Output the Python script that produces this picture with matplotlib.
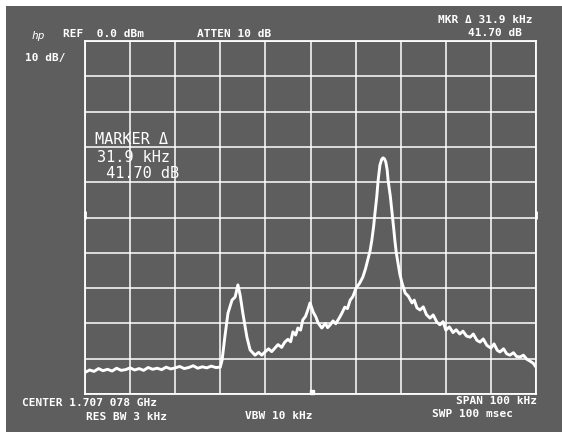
import matplotlib.pyplot as plt
import matplotlib.patches as mpatches

#--------------------------------------------------------
# Trace data
#--------------------------------------------------------
# frequency offset from center (kHz), span 100 kHz
freq_khz = [
    -50, -49, -48, -47, -46, -45, -44, -43, -42, -41,
    -40, -39, -38, -37, -36, -35, -34, -33, -32, -31,
    -30, -29, -28, -27, -26, -25, -24, -23, -22, -21, -20,
    -19.6, -19.0, -18.3, -17.4, -16.7, -16.1, -15.6, -15.0, -14.1, -13.4,
    -12.3, -11.5, -10.8, -10.1, -9.3, -8.6, -7.9, -7.2, -6.4, -5.7,
    -5.0, -4.4, -3.9, -3.3, -2.8, -2.2, -1.7, -1.1, -0.6, -0.1,
    0.6, 1.2, 1.7, 2.5, 3.3, 3.8, 4.3, 5.0, 5.6, 6.5,
    7.0, 7.6, 8.2, 8.8, 9.4, 10.1, 10.9, 11.6, 12.2, 12.7,
    13.2, 13.6, 14.0, 14.3, 14.7, 15.0, 15.4, 15.8, 16.1, 16.4,
    16.7, 17.0, 17.2, 17.7, 18.1, 18.4, 18.7, 19.0, 19.4, 19.8,
    20.3, 21.0, 21.7, 22.5, 23.0, 23.6, 24.3, 25.0, 25.7, 26.5,
    27.2, 28.0, 28.7, 29.4, 30.0, 30.8, 31.6, 32.3, 33.1, 33.8,
    34.6, 35.4, 36.1, 36.9, 37.6, 38.3, 39.1, 40.0, 40.7, 41.4,
    42.0, 42.8, 43.5, 44.2, 45.0, 45.7, 46.5, 47.2, 48.0, 48.7,
    49.4, 50.0,
]
# level (dBm), REF 0.0 dBm, 10 dB/div
level_db = [
    -93.9, -93.2, -93.6, -92.8, -93.4, -93.0, -93.5, -92.7, -93.3, -93.1,
    -92.6, -93.2, -92.8, -93.3, -92.5, -93.0, -92.7, -93.1, -92.4, -92.9,
    -92.6, -92.2, -92.8, -92.5, -92.0, -92.7, -92.3, -92.6, -92.1, -92.5, -92.4,
    -90.4, -83.9, -77.1, -73.4, -72.5, -69.1, -72.0, -77.1, -83.9, -87.5,
    -89.0, -88.2, -89.0, -88.1, -87.2, -88.0, -87.0, -86.0, -86.8, -85.3,
    -84.5, -85.2, -82.4, -83.3, -81.3, -81.9, -79.0, -78.0, -76.2, -74.2,
    -76.8, -78.2, -79.9, -81.3, -80.0, -81.2, -80.5, -79.3, -80.1, -78.2,
    -77.0, -75.4, -75.8, -73.4, -72.4, -70.0, -68.6, -66.9, -64.5, -62.0,
    -59.5, -56.4, -52.5, -48.7, -44.0, -39.4, -35.1, -33.5, -33.1, -33.4,
    -34.3, -36.5, -39.4, -44.0, -48.7, -52.5, -56.4, -59.8, -62.9, -66.0,
    -68.6, -71.4, -72.3, -74.2, -73.4, -75.6, -76.2, -75.3, -77.5, -78.5,
    -77.6, -79.6, -80.4, -79.5, -81.9, -81.0, -82.6, -81.8, -83.0, -82.2,
    -83.6, -83.9, -83.0, -84.8, -85.3, -84.4, -86.2, -87.0, -85.8, -87.6,
    -88.1, -87.2, -88.6, -89.0, -88.3, -89.4, -89.5, -89.0, -90.2, -90.7,
    -91.3, -92.4,
]

header_left = ["hp", "REF  0.0 dBm", "ATTEN 10 dB"]
header_right = ["MKR \u0394 31.9 kHz", "41.70 dB"]
marker_lines = ["MARKER \u0394", "31.9 kHz", " 41.70 dB"]
footer = ["CENTER 1.707 078 GHz", "RES BW 3 kHz", "VBW 10 kHz",
          "SPAN 100 kHz", "SWP 100 msec"]

#--------------------------------------------------------
# Figure
#--------------------------------------------------------
W, H = 562, 432
screen = "#5e5e5e"
fig = plt.figure(figsize=(W / 100, H / 100), dpi=100, facecolor=screen)

# photo paper edge on top and left
fig.patches.append(mpatches.Rectangle((0, 1 - 6 / H), 1, 6 / H, transform=fig.transFigure,
                                      facecolor="white", edgecolor="none"))
fig.patches.append(mpatches.Rectangle((0, 0), 6 / W, 1, transform=fig.transFigure,
                                      facecolor="white", edgecolor="none"))

ax = fig.add_axes([85 / W, 1 - 394 / H, (536 - 85) / W, (394 - 41) / H])
ax.set_facecolor(screen)
ax.set_xlim(-50, 50)
ax.set_ylim(-100, 0)
ax.set_xticks(range(-50, 51, 10))
ax.set_yticks(range(-100, 1, 10))
ax.tick_params(length=0, labelbottom=False, labelleft=False)
ax.grid(True, color="white", lw=1.1)
for s in ax.spines.values():
    s.set_color("white")
    s.set_linewidth(1.3)

ax.plot(freq_khz, level_db, color="white", lw=2.1, solid_joinstyle="round")

# marker dot at the bottom and side reference ticks
ax.plot([0.3], [-99.3], marker="s", ms=3.5, color="white", clip_on=False)
ax.plot([-50, 50], [-49.3, -49.3], ls="none", marker="|", ms=6, mew=2,
        color="white", clip_on=False)


def put(x, y, s, size=8, weight="bold", ha="left", **kw):
    fig.text(x / W, 1 - y / H, s, color="white", fontsize=size, fontweight=weight,
             family="DejaVu Sans Mono", ha=ha, va="center", **kw)


put(32, 36, header_left[0], size=8, weight="normal", style="italic")
put(63, 34, header_left[1])
put(197, 34, header_left[2])
put(25, 58, "10 dB/")
put(533, 20, header_right[0], ha="right")
put(522, 33, header_right[1], ha="right")

put(95, 140, marker_lines[0], size=11, weight="normal")
put(97, 157, marker_lines[1], size=11, weight="normal")
put(97, 174, marker_lines[2], size=11, weight="normal")

put(22, 403, footer[0])
put(86, 417, footer[1])
put(245, 416, footer[2])
put(537, 401, footer[3], ha="right")
put(513, 414, footer[4], ha="right")

fig.savefig("out.png", dpi=100, facecolor=screen)
